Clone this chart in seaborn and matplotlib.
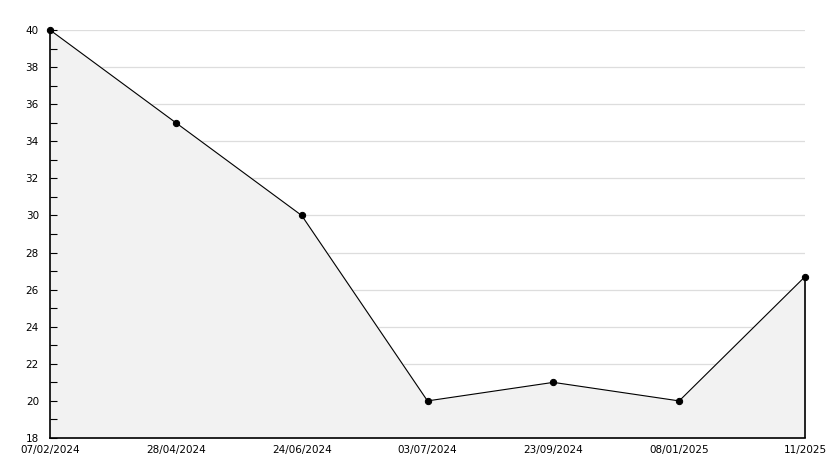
import matplotlib
matplotlib.use("Agg")
import matplotlib.pyplot as plt
import seaborn as sns
import numpy as np
import pandas as pd
from matplotlib.ticker import MultipleLocator

dates = ["07/02/2024", "28/04/2024", "24/06/2024", "03/07/2024", "23/09/2024", "08/01/2025", "11/2025"]
values = [40, 35, 30, 20, 21, 20, 26.7]

sns.set_theme(style="white")
plt.rcParams['font.family'] = ['DejaVu Sans']

df = pd.DataFrame({"pos": np.arange(len(dates)), "value": values})
ymin, ymax = 18, 40

fig = plt.figure(figsize=(8.34, 4.68), dpi=100)
ax = fig.add_axes([50/834, 1-438/468, 755/834, 408/468])

for yv in np.arange(ymin + 2, ymax + 1, 2):
    ax.axhline(yv, color="#dddddd", linewidth=0.9, zorder=0.3)
ax.fill_between(df["pos"], df["value"], ymin, color="#f2f2f2", zorder=1)
# closing edge of the filled area at the last point
ax.vlines(df["pos"].iloc[-1], ymin, df["value"].iloc[-1], color="black", linewidth=1.2,
          zorder=2, clip_on=False)
sns.lineplot(data=df, x="pos", y="value", ax=ax, color="black", linewidth=0.8,
             marker="o", markersize=4.5, markeredgecolor="black", zorder=3, clip_on=False)

ax.set_xlim(0, len(dates)-1)
ax.set_ylim(ymin, ymax)
ax.set_xticks(df["pos"])
ax.set_xticklabels(dates)
ax.yaxis.set_major_locator(MultipleLocator(2))
ax.yaxis.set_minor_locator(MultipleLocator(1))
ax.grid(False)
ax.set_axisbelow(False)
ax.set_xlabel("")
ax.set_ylabel("")
for s in ["top", "right"]:
    ax.spines[s].set_visible(False)
for s in ["left", "bottom"]:
    ax.spines[s].set_color("black")
    ax.spines[s].set_linewidth(1.2)
ax.tick_params(axis="y", which="both", direction="in", length=5, width=0.8, color="black",
               labelsize=7.5, pad=8, left=True, labelcolor="black")
ax.tick_params(axis="x", which="both", length=0, labelsize=7.5, pad=5, labelcolor="black")
fig.savefig("out.png", dpi=100)
